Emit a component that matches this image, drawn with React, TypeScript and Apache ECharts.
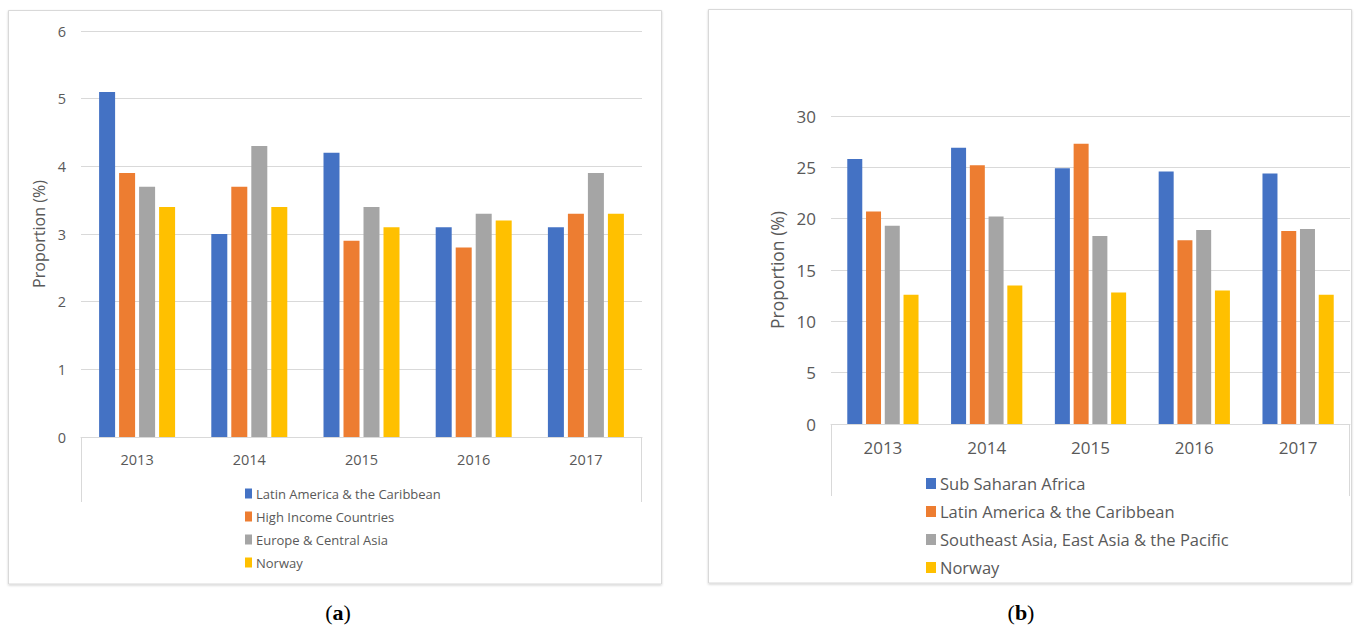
import React, { useEffect, useRef } from "react";
import * as echarts from "echarts";

// ---- data ----
const years = ["2013", "2014", "2015", "2016", "2017"];

const namesA = ["Latin America & the Caribbean", "High Income Countries", "Europe & Central Asia", "Norway"];
const latinA = [5.1, 3.0, 4.2, 3.1, 3.1];
const highIncomeA = [3.9, 3.7, 2.9, 2.8, 3.3];
const europeA = [3.7, 4.3, 3.4, 3.3, 3.9];
const norwayA = [3.4, 3.4, 3.1, 3.2, 3.3];
const yMaxA = 6;
const yStepA = 1;

const namesB = ["Sub Saharan Africa", "Latin America & the Caribbean", "Southeast Asia, East Asia & the Pacific", "Norway"];
const subSaharanB = [25.8, 26.9, 24.9, 24.6, 24.4];
const latinB = [20.7, 25.2, 27.3, 17.9, 18.8];
const seAsiaB = [19.3, 20.2, 18.3, 18.9, 19.0];
const norwayB = [12.6, 13.5, 12.8, 13.0, 12.6];
const yMaxB = 30;
const yStepB = 5;

const yAxisName = "Proportion (%)";
const captionA = "a";
const captionB = "b";

const colors = ["#4472C4", "#ED7D31", "#A5A5A5", "#FFC000"];
const FONT = "'Open Sans', sans-serif";
const TXT = "#595959";
const GRID = "#D9D9D9";

type Panel = {
  names: string[];
  values: number[][];
  yMax: number;
  yStep: number;
  frame: { x: number; y: number; w: number; h: number };
  grid: { left: number; top: number; width: number; height: number };
  barWidth: number;
  tickFont: number;
  tickMargin: number;
  catMargin: number;
  nameFont: number;
  nameGap: number;
  legend: { left: number; top: number; font: number; lineHeight: number; gap: number; iw: number; ih: number };
  tableBottom: number;
  caption: string;
  captionX: number;
};

function buildOption(p: Panel): any {
  const g = p.grid;
  return {
    animation: false,
    backgroundColor: "#ffffff",
    color: colors,
    textStyle: { fontFamily: FONT },
    grid: { left: g.left, top: g.top, width: g.width, height: g.height, containLabel: false },
    xAxis: {
      type: "category",
      data: years,
      axisLine: { show: true, lineStyle: { color: GRID, width: 1 } },
      axisTick: { show: false },
      axisLabel: { color: TXT, fontSize: p.tickFont, fontFamily: FONT, margin: p.catMargin },
      splitLine: { show: false },
    },
    yAxis: {
      type: "value",
      min: 0,
      max: p.yMax,
      interval: p.yStep,
      axisLine: { show: false },
      axisTick: { show: false },
      axisLabel: { color: TXT, fontSize: p.tickFont, fontFamily: FONT, margin: p.tickMargin },
      splitLine: { show: true, lineStyle: { color: GRID, width: 1 } },
      name: yAxisName,
      nameLocation: "middle",
      nameGap: p.nameGap,
      nameRotate: 90,
      nameTextStyle: { color: TXT, fontSize: p.nameFont, fontFamily: FONT },
    },
    legend: {
      orient: "vertical",
      left: p.legend.left,
      top: p.legend.top,
      padding: 0,
      itemWidth: p.legend.iw,
      itemHeight: p.legend.ih,
      itemGap: p.legend.gap,
      icon: "rect",
      selectedMode: false,
      data: p.names,
      textStyle: {
        color: TXT,
        fontSize: p.legend.font,
        lineHeight: p.legend.lineHeight,
        fontFamily: FONT,
        padding: [0, 0, 0, -1],
      },
    },
    graphic: [
      {
        type: "rect",
        z: -10,
        silent: true,
        shape: { x: p.frame.x, y: p.frame.y, width: p.frame.w, height: p.frame.h },
        style: {
          fill: "#ffffff",
          stroke: "#D9D9D9",
          lineWidth: 1,
          shadowBlur: 2,
          shadowOffsetY: 1,
          shadowColor: "rgba(0,0,0,0.18)",
        },
      },
      {
        type: "line",
        silent: true,
        shape: { x1: g.left + 0.5, y1: g.top + g.height, x2: g.left + 0.5, y2: p.tableBottom },
        style: { stroke: GRID, lineWidth: 1 },
      },
      {
        type: "line",
        silent: true,
        shape: { x1: g.left + g.width - 0.5, y1: g.top + g.height, x2: g.left + g.width - 0.5, y2: p.tableBottom },
        style: { stroke: GRID, lineWidth: 1 },
      },
      {
        type: "text",
        silent: true,
        x: p.captionX,
        y: 612,
        style: {
          text: "{p|(}{b|" + p.caption + "}{p|)}",
          align: "center",
          verticalAlign: "middle",
          rich: {
            p: { fontFamily: "'Liberation Serif', serif", fontSize: 22, fill: "#000" },
            b: { fontFamily: "'Liberation Serif', serif", fontSize: 22, fontWeight: "bold", fill: "#000" },
          },
        },
      },
    ],
    series: p.names.map((n, i) => ({
      name: n,
      type: "bar",
      data: p.values[i],
      barWidth: p.barWidth,
      barGap: "25%",
      itemStyle: { color: colors[i] },
    })),
  };
}

const panelA: Panel = {
  names: namesA,
  values: [latinA, highIncomeA, europeA, norwayA],
  yMax: yMaxA,
  yStep: yStepA,
  frame: { x: 8.5, y: 10.5, w: 653, h: 573.5 },
  grid: { left: 81, top: 31, width: 561, height: 406 },
  barWidth: 16,
  tickFont: 14.5,
  tickMargin: 15,
  catMargin: 15,
  nameFont: 16,
  nameGap: 26,
  legend: { left: 245, top: 486, font: 13, lineHeight: 15, gap: 8, iw: 7, ih: 10 },
  tableBottom: 502,
  caption: captionA,
  captionX: 338,
};

const OFFB = 690;
const panelB: Panel = {
  names: namesB,
  values: [subSaharanB, latinB, seAsiaB, norwayB],
  yMax: yMaxB,
  yStep: yStepB,
  frame: { x: 708.5 - OFFB, y: 9.5, w: 643, h: 573.5 },
  grid: { left: 831 - OFFB, top: 116, width: 519, height: 308 },
  barWidth: 15,
  tickFont: 17,
  tickMargin: 15,
  catMargin: 15,
  nameFont: 17.5,
  nameGap: 44,
  legend: { left: 926 - OFFB, top: 474.5, font: 16.5, lineHeight: 18, gap: 10, iw: 10, ih: 11 },
  tableBottom: 496,
  caption: captionB,
  captionX: 1021 - OFFB,
};

function ChartBox({ panel, left, width }: { panel: Panel; left: number; width: number }) {
  const ref = useRef<HTMLDivElement>(null);
  useEffect(() => {
    if (!ref.current) return;
    const chart = echarts.init(ref.current, undefined, { renderer: "svg" });
    chart.setOption(buildOption(panel));
    return () => chart.dispose();
  }, [panel]);
  return <div ref={ref} style={{ position: "absolute", left, top: 0, width, height: 627 }} />;
}

export default function App() {
  return (
    <div style={{ position: "absolute", left: 0, top: 0, width: 1354, height: 627, background: "#fff", overflow: "hidden" }}>
      <ChartBox panel={panelA} left={0} width={OFFB} />
      <ChartBox panel={panelB} left={OFFB} width={1354 - OFFB} />
    </div>
  );
}
